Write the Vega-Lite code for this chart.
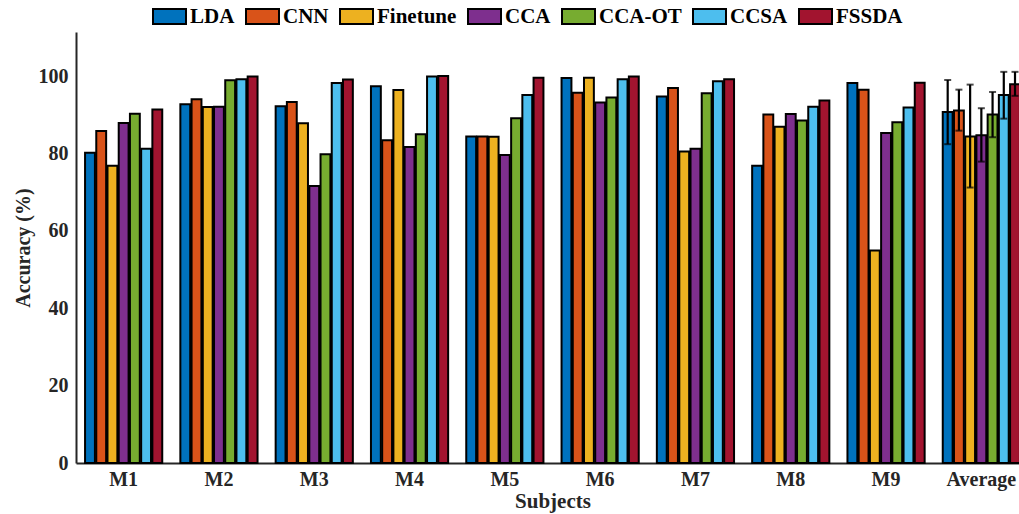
{
  "$schema": "https://vega.github.io/schema/vega-lite/v6.json",
  "width": 953,
  "height": 431,
  "autosize": {"type": "none"},
  "padding": {"left": 76, "top": 32, "right": -10, "bottom": 51},
  "background": "white",
  "config": {
    "view": {"stroke": null},
    "font": "Liberation Serif"
  },
  "data": {
    "values": [
      {"subject": "M1", "method": "LDA", "acc": 80.2},
      {"subject": "M1", "method": "CNN", "acc": 85.8},
      {"subject": "M1", "method": "Finetune", "acc": 76.8},
      {"subject": "M1", "method": "CCA", "acc": 87.9},
      {"subject": "M1", "method": "CCA-OT", "acc": 90.3},
      {"subject": "M1", "method": "CCSA", "acc": 81.2},
      {"subject": "M1", "method": "FSSDA", "acc": 91.4},
      {"subject": "M2", "method": "LDA", "acc": 92.7},
      {"subject": "M2", "method": "CNN", "acc": 94.0},
      {"subject": "M2", "method": "Finetune", "acc": 92.0},
      {"subject": "M2", "method": "CCA", "acc": 92.1},
      {"subject": "M2", "method": "CCA-OT", "acc": 98.9},
      {"subject": "M2", "method": "CCSA", "acc": 99.2},
      {"subject": "M2", "method": "FSSDA", "acc": 99.9},
      {"subject": "M3", "method": "LDA", "acc": 92.2},
      {"subject": "M3", "method": "CNN", "acc": 93.3},
      {"subject": "M3", "method": "Finetune", "acc": 87.8},
      {"subject": "M3", "method": "CCA", "acc": 71.6},
      {"subject": "M3", "method": "CCA-OT", "acc": 79.8},
      {"subject": "M3", "method": "CCSA", "acc": 98.2},
      {"subject": "M3", "method": "FSSDA", "acc": 99.1},
      {"subject": "M4", "method": "LDA", "acc": 97.4},
      {"subject": "M4", "method": "CNN", "acc": 83.4},
      {"subject": "M4", "method": "Finetune", "acc": 96.4},
      {"subject": "M4", "method": "CCA", "acc": 81.7},
      {"subject": "M4", "method": "CCA-OT", "acc": 85.0},
      {"subject": "M4", "method": "CCSA", "acc": 99.9},
      {"subject": "M4", "method": "FSSDA", "acc": 100.0},
      {"subject": "M5", "method": "LDA", "acc": 84.4},
      {"subject": "M5", "method": "CNN", "acc": 84.4},
      {"subject": "M5", "method": "Finetune", "acc": 84.3},
      {"subject": "M5", "method": "CCA", "acc": 79.6},
      {"subject": "M5", "method": "CCA-OT", "acc": 89.1},
      {"subject": "M5", "method": "CCSA", "acc": 95.1},
      {"subject": "M5", "method": "FSSDA", "acc": 99.6},
      {"subject": "M6", "method": "LDA", "acc": 99.5},
      {"subject": "M6", "method": "CNN", "acc": 95.7},
      {"subject": "M6", "method": "Finetune", "acc": 99.6},
      {"subject": "M6", "method": "CCA", "acc": 93.2},
      {"subject": "M6", "method": "CCA-OT", "acc": 94.5},
      {"subject": "M6", "method": "CCSA", "acc": 99.2},
      {"subject": "M6", "method": "FSSDA", "acc": 99.9},
      {"subject": "M7", "method": "LDA", "acc": 94.7},
      {"subject": "M7", "method": "CNN", "acc": 96.9},
      {"subject": "M7", "method": "Finetune", "acc": 80.5},
      {"subject": "M7", "method": "CCA", "acc": 81.2},
      {"subject": "M7", "method": "CCA-OT", "acc": 95.6},
      {"subject": "M7", "method": "CCSA", "acc": 98.7},
      {"subject": "M7", "method": "FSSDA", "acc": 99.2},
      {"subject": "M8", "method": "LDA", "acc": 76.8},
      {"subject": "M8", "method": "CNN", "acc": 90.1},
      {"subject": "M8", "method": "Finetune", "acc": 86.9},
      {"subject": "M8", "method": "CCA", "acc": 90.2},
      {"subject": "M8", "method": "CCA-OT", "acc": 88.5},
      {"subject": "M8", "method": "CCSA", "acc": 92.1},
      {"subject": "M8", "method": "FSSDA", "acc": 93.7},
      {"subject": "M9", "method": "LDA", "acc": 98.2},
      {"subject": "M9", "method": "CNN", "acc": 96.5},
      {"subject": "M9", "method": "Finetune", "acc": 54.9},
      {"subject": "M9", "method": "CCA", "acc": 85.3},
      {"subject": "M9", "method": "CCA-OT", "acc": 88.1},
      {"subject": "M9", "method": "CCSA", "acc": 91.9},
      {"subject": "M9", "method": "FSSDA", "acc": 98.3},
      {"subject": "Average", "method": "LDA", "acc": 90.7, "lo": 82.4, "hi": 99.0},
      {"subject": "Average", "method": "CNN", "acc": 91.1, "lo": 85.9, "hi": 96.5},
      {"subject": "Average", "method": "Finetune", "acc": 84.4, "lo": 71.2, "hi": 97.8},
      {"subject": "Average", "method": "CCA", "acc": 84.7, "lo": 77.9, "hi": 91.7},
      {"subject": "Average", "method": "CCA-OT", "acc": 90.1, "lo": 84.2, "hi": 95.9},
      {"subject": "Average", "method": "CCSA", "acc": 95.1, "lo": 89.0, "hi": 101.1},
      {"subject": "Average", "method": "FSSDA", "acc": 97.9, "lo": 94.9, "hi": 101.1}
    ]
  },
  "encoding": {
    "x": {
      "field": "subject",
      "type": "nominal",
      "sort": null,
      "scale": {"paddingInner": 0.19, "paddingOuter": 0.095},
      "axis": {
        "title": "Subjects",
        "labelAngle": 0,
        "ticks": false,
        "domainColor": "#262626",
        "domainWidth": 2,
        "labelFont": "Liberation Serif",
        "labelFontWeight": "bold",
        "labelFontSize": 20,
        "labelColor": "#262626",
        "labelPadding": 6,
        "titleFont": "Liberation Serif",
        "titleFontWeight": "bold",
        "titleFontSize": 21,
        "titleColor": "#262626",
        "titlePadding": 1
      }
    },
    "xOffset": {
      "field": "method",
      "type": "nominal",
      "sort": ["LDA", "CNN", "Finetune", "CCA", "CCA-OT", "CCSA", "FSSDA"],
      "scale": {"paddingInner": 0.12, "paddingOuter": 0}
    }
  },
  "layer": [
    {
      "mark": {"type": "bar", "stroke": "black", "strokeWidth": 2},
      "encoding": {
        "y": {
          "field": "acc",
          "type": "quantitative",
          "scale": {"domain": [0, 111.4], "nice": false},
          "axis": {
            "title": "Accuracy (%)",
            "values": [0, 20, 40, 60, 80, 100],
            "grid": false,
            "ticks": false,
            "domainColor": "#262626",
            "domainWidth": 2,
            "labelFont": "Liberation Serif",
            "labelFontWeight": "bold",
            "labelFontSize": 20,
            "labelColor": "#262626",
            "labelPadding": 8,
            "titleFont": "Liberation Serif",
            "titleFontWeight": "bold",
            "titleFontSize": 20,
            "titleColor": "#262626",
            "titlePadding": 5
          }
        },
        "color": {
          "field": "method",
          "type": "nominal",
          "sort": ["LDA", "CNN", "Finetune", "CCA", "CCA-OT", "CCSA", "FSSDA"],
          "scale": {
            "domain": ["LDA", "CNN", "Finetune", "CCA", "CCA-OT", "CCSA", "FSSDA"],
            "range": ["#0072BD", "#D95319", "#EDB120", "#7E2F8E", "#77AC30", "#4DBEEE", "#A2142F"]
          },
          "legend": {
            "title": null,
            "orient": "none",
            "direction": "horizontal",
            "legendX": 76,
            "legendY": -33,
            "symbolType": "M-1,-0.45H1V0.45H-1Z",
            "symbolSize": 1089,
            "symbolStrokeColor": "black",
            "symbolStrokeWidth": 2,
            "symbolOpacity": 1,
            "labelFont": "Liberation Serif",
            "labelFontWeight": "bold",
            "labelFontSize": 21,
            "labelColor": "black",
            "labelOffset": 3,
            "columnPadding": 7
          }
        }
      }
    },
    {
      "transform": [{"filter": "isValid(datum.lo)"}],
      "mark": {"type": "rule", "color": "black", "strokeWidth": 2.2},
      "encoding": {
        "y": {"field": "lo", "type": "quantitative"},
        "y2": {"field": "hi"}
      }
    },
    {
      "transform": [{"filter": "isValid(datum.lo)"}],
      "mark": {"type": "tick", "color": "black", "thickness": 2, "size": 7, "orient": "horizontal"},
      "encoding": {
        "y": {"field": "lo", "type": "quantitative"}
      }
    },
    {
      "transform": [{"filter": "isValid(datum.lo)"}],
      "mark": {"type": "tick", "color": "black", "thickness": 2, "size": 7, "orient": "horizontal"},
      "encoding": {
        "y": {"field": "hi", "type": "quantitative"}
      }
    }
  ]
}
